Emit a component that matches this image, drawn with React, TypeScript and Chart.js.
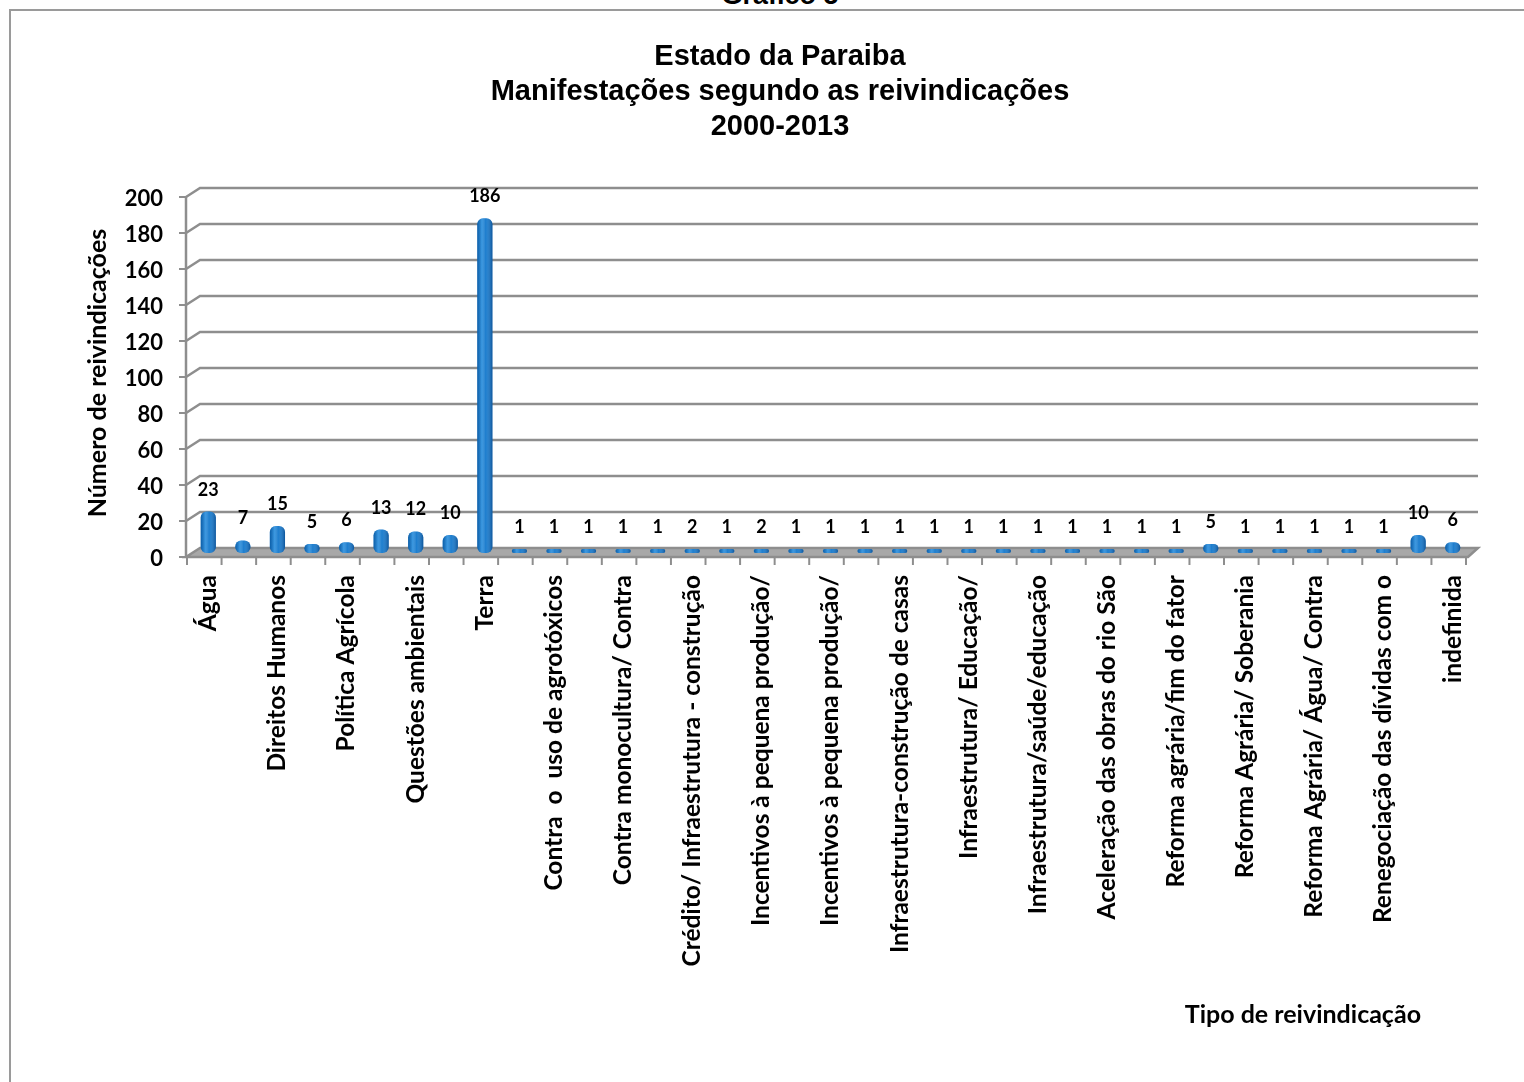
import React, { useEffect, useRef } from 'react';
import { Chart, registerables } from 'chart.js';

Chart.register(...registerables);

const headerText = 'Gráfico 5';
const titleLines = ['Estado da Paraiba', 'Manifestações segundo as reivindicações', '2000-2013'];
const yAxisTitle = 'Número de reivindicações';
const xAxisTitle = 'Tipo de reivindicação';

const categories = [
  'Água',
  'Assistência técnica',
  'Direitos Humanos',
  'Educação',
  'Política Agrícola',
  'Previdência',
  'Questões ambientais',
  'Saúde',
  'Terra',
  'Contra a violência',
  'Contra  o  uso de agrotóxicos',
  'Contra barragens',
  'Contra monocultura/ Contra',
  'Crédito/ Infraestrutura',
  'Crédito/ Infraestrutura - construção',
  'Educação/ Saúde',
  'Incentivos à pequena produção/',
  'Incentivos à pequena produção',
  'Incentivos à pequena produção/',
  'Infraestrutura',
  'Infraestrutura-construção de casas',
  'Infraestrutura/ Água',
  'Infraestrutura/ Educação/',
  'Infraestrutura/ Saúde',
  'Infraestrutura/saúde/educação',
  'Moradia',
  'Aceleração das obras do rio São',
  'Reforma agrária/ Crédito',
  'Reforma agrária/fim do fator',
  'Reforma Agrária/ Crédito',
  'Reforma Agrária/ Soberania',
  'Reforma Agrária/ Educação',
  'Reforma Agrária/ Água/ Contra',
  'Reforma Agrária/ Infraestrutura',
  'Renegociação das dívidas com o',
  'Trabalho',
  'indefinida',
];

const values = [
  23, 7, 15, 5, 6, 13, 12, 10, 186,
  1, 1, 1, 1, 1, 2, 1, 2, 1, 1, 1, 1, 1, 1, 1, 1, 1, 1, 1, 1, 5, 1, 1, 1, 1, 1, 10, 6,
];

const yMin = 0;
const yMax = 200;
const yStep = 20;

const FONT = 'Lato, "Open Sans", sans-serif';
const TITLE_FONT = '"Liberation Sans", Arial, sans-serif';

const scenePlugin = {
  id: 'scene3d',
  beforeDatasetsDraw(chart: any) {
    const { ctx, chartArea: a, scales } = chart;
    const y = scales.y;
    const n = categories.length;
    const step = (a.right - a.left) / n;
    const y0 = y.getPixelForValue(0);
    ctx.save();
    ctx.lineWidth = 2.5;
    ctx.strokeStyle = '#8e8e8e';
    // floor
    ctx.beginPath();
    ctx.moveTo(a.left - 5, y0 + 4);
    ctx.lineTo(a.right - 2, y0 + 4);
    ctx.lineTo(a.right + 8, y0 - 5);
    ctx.lineTo(a.left + 9, y0 - 5);
    ctx.closePath();
    ctx.fillStyle = '#a8a8a8';
    ctx.fill();
    ctx.stroke();
    // back-wall gridlines
    for (let v = yStep; v <= yMax; v += yStep) {
      const py = y.getPixelForValue(v);
      ctx.beginPath();
      ctx.moveTo(a.left - 5, py + 4);
      ctx.lineTo(a.left + 9, py - 5);
      ctx.lineTo(a.right + 8, py - 5);
      ctx.stroke();
    }
    // front vertical axis + tick marks
    ctx.beginPath();
    ctx.moveTo(a.left - 5, y.getPixelForValue(yMax) + 4);
    ctx.lineTo(a.left - 5, y0 + 4);
    ctx.stroke();
    ctx.lineWidth = 2;
    for (let v = yMin; v <= yMax; v += yStep) {
      const py = y.getPixelForValue(v) + 4;
      ctx.beginPath();
      ctx.moveTo(a.left - 12, py);
      ctx.lineTo(a.left - 5, py);
      ctx.stroke();
    }
    for (let k = 0; k <= n; k++) {
      const px = a.left - 4 + k * step;
      ctx.beginPath();
      ctx.moveTo(px, y0 + 4);
      ctx.lineTo(px, y0 + 12);
      ctx.stroke();
    }
    ctx.restore();
  },
  afterDatasetsDraw(chart: any) {
    const { ctx } = chart;
    const meta = chart.getDatasetMeta(0);
    ctx.save();
    meta.data.forEach((bar: any, i: number) => {
      const w = bar.width;
      const left = bar.x - w / 2;
      const top = bar.y;
      const h = bar.base - bar.y;
      const g = ctx.createLinearGradient(left, 0, left + w, 0);
      g.addColorStop(0, 'rgba(0,40,90,0.3)');
      g.addColorStop(0.3, 'rgba(120,200,255,0.4)');
      g.addColorStop(0.55, 'rgba(255,255,255,0.05)');
      g.addColorStop(1, 'rgba(0,30,80,0.4)');
      ctx.beginPath();
      (ctx as any).roundRect(left, top, w, h, Math.min(6, h / 2));
      ctx.fillStyle = g;
      ctx.fill();
      // value label
      ctx.fillStyle = '#000';
      ctx.font = `bold 18px ${FONT}`;
      ctx.textAlign = 'center';
      ctx.textBaseline = 'alphabetic';
      ctx.fillText(String(values[i]), bar.x, top - 16);
    });
    ctx.restore();
  },
  afterDraw(chart: any) {
    const { ctx, chartArea: a } = chart;
    ctx.save();
    ctx.fillStyle = '#000';
    ctx.font = `bold 25px ${FONT}`;
    ctx.textAlign = 'right';
    ctx.textBaseline = 'middle';
    ctx.fillText(xAxisTitle, a.right - 49, chart.height - 67);
    ctx.restore();
  },
};

export default function App() {
  const ref = useRef<HTMLCanvasElement | null>(null);

  useEffect(() => {
    if (!ref.current) return;
    const chart = new Chart(ref.current, {
      type: 'bar',
      data: {
        labels: categories,
        datasets: [
          {
            data: values,
            backgroundColor: '#1177cc',
            borderWidth: 0,
            borderRadius: 6,
            borderSkipped: false,
            barPercentage: 0.44,
            categoryPercentage: 1,
            minBarLength: 4,
            yAxisID: 'y',
          },
        ],
      },
      options: {
        responsive: false,
        animation: false,
        devicePixelRatio: 1,
        layout: { padding: 0 },
        plugins: {
          legend: { display: false },
          tooltip: { enabled: false },
          title: {
            display: true,
            text: titleLines,
            color: '#000',
            font: { family: TITLE_FONT, size: 29, weight: 'bold', lineHeight: 1.207 },
            padding: { top: 29, bottom: 49 },
          },
        },
        scales: {
          x: {
            grid: { display: false, drawTicks: false },
            border: { display: false },
            ticks: {
              autoSkip: false,
              minRotation: 90,
              maxRotation: 90,
              padding: 22,
              color: '#000',
              font: { family: FONT, size: 24.5, weight: 'bold' },
              callback: (_v: any, i: number) => (i % 2 === 0 ? categories[i] : ''),
            },
            afterFit: (s: any) => {
              s.height = 529;
            },
          },
          y: {
            min: yMin,
            max: yMax,
            grid: { display: false, drawTicks: false },
            border: { display: false },
            ticks: {
              stepSize: yStep,
              padding: 28,
              labelOffset: 6,
              color: '#000',
              font: { family: FONT, size: 22, weight: 'bold' },
            },
            title: {
              display: true,
              text: yAxisTitle,
              color: '#000',
              font: { family: FONT, size: 25, weight: 'bold' },
              padding: { top: 73, bottom: 0 },
            },
            afterFit: (s: any) => {
              s.width = 181;
            },
          },
          yRight: {
            position: 'right',
            display: true,
            min: yMin,
            max: yMax,
            grid: { display: false, drawTicks: false },
            border: { display: false },
            ticks: { display: false },
            afterFit: (s: any) => {
              s.width = 80;
            },
          },
        },
      },
      plugins: [scenePlugin],
    } as any);
    return () => chart.destroy();
  }, []);

  return (
    <div
      style={{
        position: 'fixed',
        left: 0,
        top: 0,
        width: 1524,
        height: 1082,
        overflow: 'hidden',
        background: '#fff',
      }}
    >
      <div
        style={{
          position: 'absolute',
          left: 0,
          width: 1560,
          top: -18,
          textAlign: 'center',
          fontFamily: TITLE_FONT,
          fontWeight: 'bold',
          fontSize: 27,
          lineHeight: '27px',
          color: '#000',
        }}
      >
        {headerText}
      </div>
      <div
        style={{
          position: 'absolute',
          left: 9,
          top: 9,
          width: 1560,
          height: 1120,
          border: '2px solid #9a9a9a',
          boxSizing: 'border-box',
        }}
      />
      <canvas
        ref={ref}
        width={1540}
        height={1072}
        style={{ position: 'absolute', left: 10, top: 10, width: 1540, height: 1072 }}
      />
    </div>
  );
}
